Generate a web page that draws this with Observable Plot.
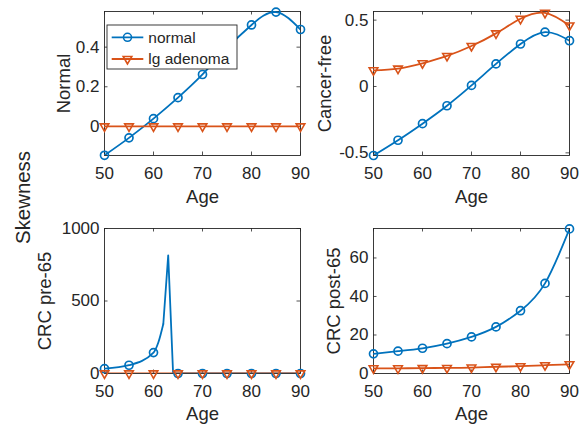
<!DOCTYPE html>
<html><head><meta charset="utf-8">
<script src="https://cdn.jsdelivr.net/npm/d3@7"></script>
<script src="https://cdn.jsdelivr.net/npm/@observablehq/plot@0.6"></script>
<style>
body{margin:0;background:#fff;}
#chart{position:relative;width:580px;height:424px;background:#fff;overflow:hidden;}
#chart > svg{position:absolute;}
</style></head><body><div id="chart"></div>
<script>
// ---------- data ----------
const ages = [50,55,60,65,70,75,80,85,90];
const xTicks = [50,60,70,80,90];
const seriesNames = ["normal","lg adenoma"];
const xLabel = "Age";
const supLabel = "Skewness";
const panelLabels = ["Normal","Cancer-free","CRC pre-65","CRC post-65"];

// Panel 1: Normal
const normalNormal  = [-0.146,-0.058,0.039,0.145,0.262,0.395,0.512,0.577,0.489];
const normalAdenoma = [0,0,0,0,0,0,0,0,0];
const normalTicks   = [0,0.2,0.4];
// Panel 2: Cancer-free
const cfNormal  = [-0.52,-0.405,-0.28,-0.145,0.008,0.17,0.32,0.41,0.345];
const cfAdenoma = [0.122,0.135,0.175,0.23,0.305,0.40,0.51,0.555,0.46];
const cfTicks   = [-0.5,0,0.5];
// Panel 3: CRC pre-65 (line has yearly detail around the spike)
const preLineAges   = [50,55,60,61,62,63,64,65,70,75,80,85,90];
const preNormalLine = [33,57,144,215,341,815,0,0,0,0,0,0,0];
const preNormal     = [33,57,144,0,0,0,0,0,0];
const preAdenoma    = [1,1,1,1,1,1,1,1,1];
const preTicks      = [0,500,1000];
// Panel 4: CRC post-65
const postNormal  = [10.2,11.6,13.1,15.5,19.0,24.2,32.6,46.8,75.1];
const postAdenoma = [2.7,2.7,2.8,2.9,3.1,3.5,3.8,4.3,4.8];
const postTicks   = [0,20,40,60];

// ---------- styling ----------
const BLUE = "#0072BD", ORANGE = "#D95319", AX = "#262626";
const FONT = "'Liberation Sans', Arial, Helvetica, sans-serif";
const TICKFS = 17, LABELFS = 18.5, LEGFS = 15.5;

const rows = (xs, vs) => xs.map((a,i)=>({age:a, v:vs[i]}));

const panels = [
  {label:panelLabels[0], normal:rows(ages,normalNormal), normalLine:[rows(ages,normalNormal)], adenoma:rows(ages,normalAdenoma),
   yDomain:[-0.147,0.58], yTicks:normalTicks, left:0, top:0, width:310, height:212, ml:104, mr:10, mt:11, mb:57, labelDx:-34.7, ageDy:47},
  {label:panelLabels[1], normal:rows(ages,cfNormal), normalLine:[rows(ages,cfNormal)], adenoma:rows(ages,cfAdenoma),
   yDomain:[-0.52,0.565], yTicks:cfTicks, left:310, top:0, width:270, height:212, ml:63, mr:11, mt:11, mb:57, labelDx:-42.7, ageDy:47},
  {label:panelLabels[2], normal:rows(ages,preNormal), adenoma:rows(ages,preAdenoma), spike:true,
   normalLine:[rows(preLineAges,preNormalLine).filter(d=>d.age<=62), rows(preLineAges,preNormalLine).filter(d=>d.age>=62)],
   yDomain:[0,1000], yTicks:preTicks, left:0, top:212, width:310, height:212, ml:104, mr:10, mt:16, mb:51, labelDx:-54, ageDy:46},
  {label:panelLabels[3], normal:rows(ages,postNormal), normalLine:[rows(ages,postNormal)], adenoma:rows(ages,postAdenoma),
   yDomain:[0,75.3], yTicks:postTicks, left:310, top:212, width:270, height:212, ml:63, mr:11, mt:16, mb:51, labelDx:-33.5, ageDy:46}
];

const chart = document.getElementById("chart");

for (const p of panels) {
  const fw = p.width - p.ml - p.mr, fh = p.height - p.mt - p.mb;
  const lineMarks = p.normalLine.map((seg, k) => Plot.line(seg, {
    x:"age", y:"v", stroke:BLUE, strokeWidth:1.8, clip:true,
    curve: p.spike ? (k === 0 ? "monotone-x" : "linear") : "natural"
  }));
  const svg = Plot.plot({
    width:p.width, height:p.height,
    marginLeft:p.ml, marginRight:p.mr, marginTop:p.mt, marginBottom:p.mb,
    style:{fontFamily:FONT, fontSize:TICKFS+"px", color:AX, background:"transparent", overflow:"visible"},
    x:{domain:[50,90]},
    y:{domain:p.yDomain},
    marks:[
      Plot.ruleX(xTicks, {x:d=>d, insetTop:fh-3.5, stroke:AX, strokeWidth:0.8}),
      Plot.ruleX(xTicks, {x:d=>d, insetBottom:fh-3.5, stroke:AX, strokeWidth:0.8}),
      Plot.ruleY(p.yTicks, {y:d=>d, insetRight:fw-3.5, stroke:AX, strokeWidth:0.8}),
      Plot.ruleY(p.yTicks, {y:d=>d, insetLeft:fw-3.5, stroke:AX, strokeWidth:0.8}),
      Plot.frame({stroke:AX, strokeWidth:0.9}),
      Plot.axisX(xTicks, {tickSize:0, tickPadding:11.5, label:null, fontSize:TICKFS, tickFormat:d=>String(d)}),
      Plot.axisY(p.yTicks, {tickSize:0, tickPadding:5, label:null, fontSize:TICKFS, tickFormat:d=>String(d)}),
      ...lineMarks,
      Plot.dot(p.normal, {x:"age", y:"v", r:4, stroke:BLUE, strokeWidth:1.7, fill:"none"}),
      Plot.line(p.adenoma, {x:"age", y:"v", stroke:ORANGE, strokeWidth:1.8, curve:"natural", clip:true}),
      Plot.dot(p.adenoma, {x:"age", y:"v", r:3.2, symbol:"triangle", rotate:180, stroke:ORANGE, strokeWidth:1.6, fill:"none"}),
      Plot.text([p.label], {text:d=>d, frameAnchor:"left", textAnchor:"middle", rotate:-90, dx:p.labelDx, lineAnchor:"bottom", fontSize:LABELFS, fill:AX}),
      Plot.text([xLabel], {text:d=>d, frameAnchor:"bottom", textAnchor:"middle", dy:p.ageDy, lineAnchor:"bottom", fontSize:LABELFS, fill:AX})
    ]
  });
  svg.style.left = p.left + "px";
  svg.style.top = p.top + "px";
  chart.appendChild(svg);
}

// ---------- legend (top-left panel) ----------
const leg = d3.create("svg").attr("width",145).attr("height",55)
  .style("left","100px").style("top","20px").style("overflow","visible");
leg.append("rect").attr("x",7).attr("y",5).attr("width",130).attr("height",44)
  .attr("fill","#fff").attr("stroke",AX).attr("stroke-width",0.9);
const legRows = [
  {name:seriesNames[0], color:BLUE, sym:d3.symbolCircle, r:4, rot:0, y:17.3},
  {name:seriesNames[1], color:ORANGE, sym:d3.symbolTriangle, r:3.2, rot:180, y:39}
];
for (const r of legRows) {
  leg.append("line").attr("x1",11.7).attr("x2",43.3).attr("y1",r.y).attr("y2",r.y)
    .attr("stroke",r.color).attr("stroke-width",1.8);
  leg.append("path").attr("d", d3.symbol(r.sym, r.r*r.r*Math.PI)())
    .attr("transform",`translate(27.5,${r.y}) rotate(${r.rot})`)
    .attr("fill","none").attr("stroke",r.color).attr("stroke-width",1.6);
  leg.append("text").attr("x",48.3).attr("y",r.y+5.4).text(r.name)
    .attr("font-family",FONT).attr("font-size",LEGFS).attr("fill",AX);
}
chart.appendChild(leg.node());

// ---------- shared y label ----------
const sup = d3.create("svg").attr("width",40).attr("height",120)
  .style("left","0px").style("top","140px").style("overflow","visible");
sup.append("text").attr("transform","translate(29.5,57.5) rotate(-90)")
  .attr("text-anchor","middle").attr("font-family",FONT).attr("font-size",20.4)
  .attr("fill",AX).text(supLabel);
chart.appendChild(sup.node());
</script>
</body></html>
